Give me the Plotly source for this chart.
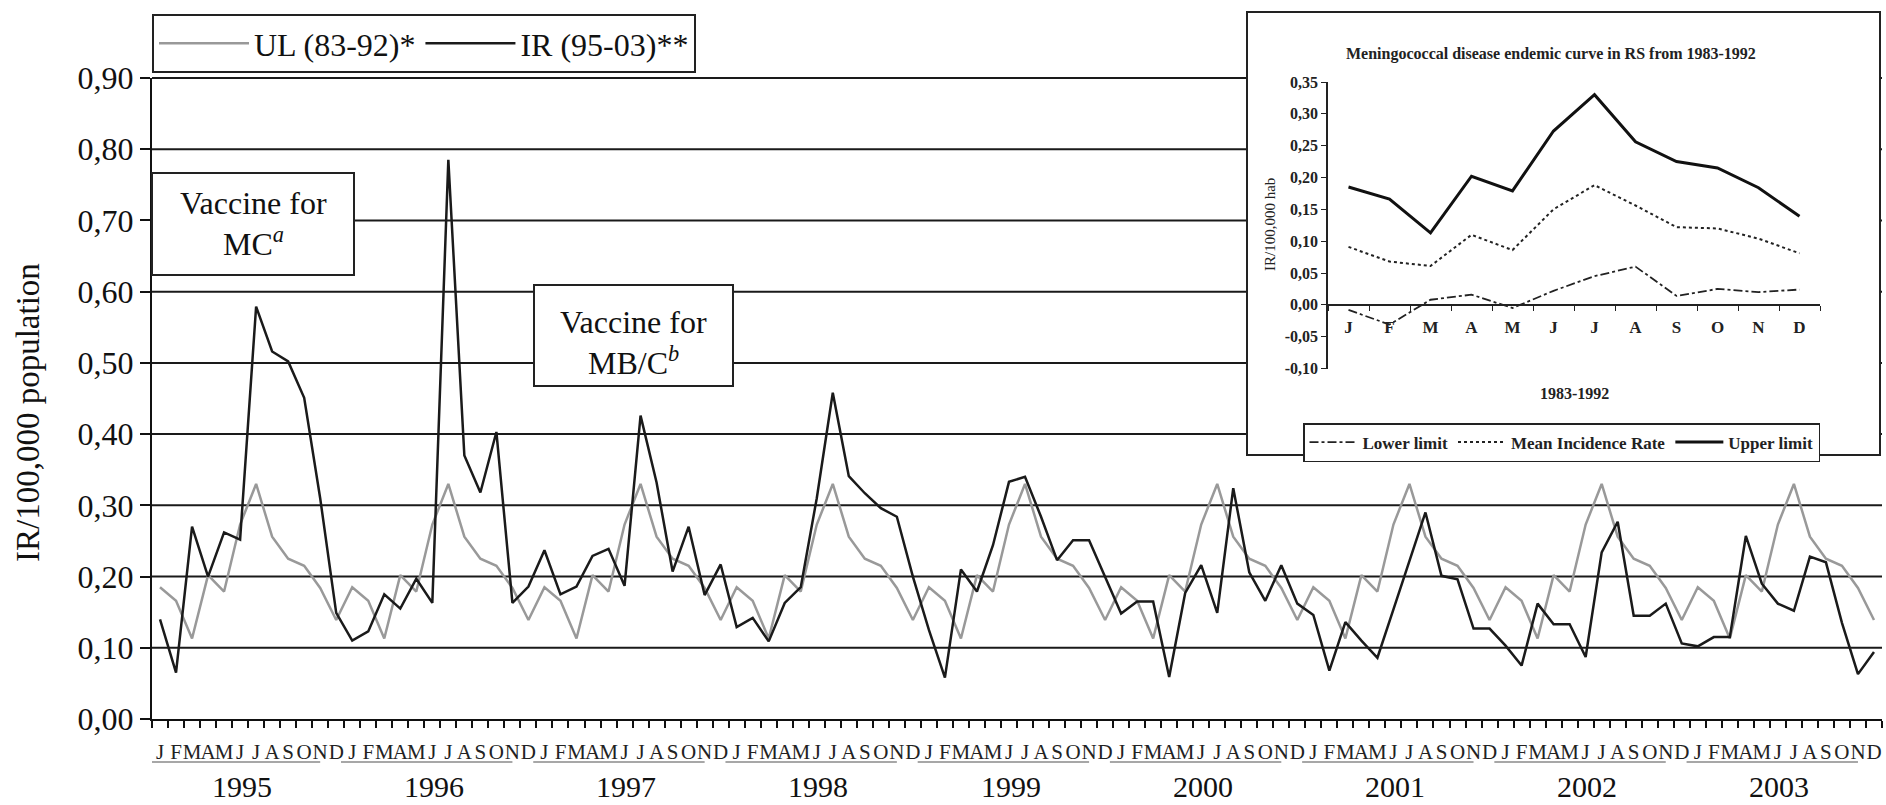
import plotly.graph_objects as go

# ---------------- data ----------------
months = ["J", "F", "M", "A", "M", "J", "J", "A", "S", "O", "N", "D"]
years = ["1995", "1996", "1997", "1998", "1999", "2000", "2001", "2002", "2003"]

# Upper limit of the 1983-1992 endemic curve (monthly)
ul_83_92 = [0.185, 0.166, 0.113, 0.202, 0.179, 0.273, 0.330, 0.256, 0.225, 0.215, 0.184, 0.139]
mean_83_92 = [0.091, 0.068, 0.061, 0.110, 0.086, 0.150, 0.188, 0.156, 0.122, 0.120, 0.104, 0.081]
lower_83_92 = [-0.008, -0.031, 0.008, 0.016, -0.005, 0.022, 0.045, 0.060, 0.014, 0.025, 0.020, 0.024]

ir_1995 = [0.140, 0.065, 0.270, 0.200, 0.262, 0.252, 0.579, 0.516, 0.502, 0.451, 0.310, 0.149]
ir_1996 = [0.110, 0.123, 0.175, 0.155, 0.197, 0.163, 0.785, 0.370, 0.318, 0.403, 0.163, 0.186]
ir_1997 = [0.237, 0.175, 0.186, 0.229, 0.239, 0.187, 0.426, 0.332, 0.207, 0.270, 0.174, 0.217]
ir_1998 = [0.129, 0.142, 0.109, 0.163, 0.185, 0.310, 0.458, 0.341, 0.317, 0.296, 0.284, 0.200]
ir_1999 = [0.125, 0.058, 0.210, 0.179, 0.244, 0.333, 0.340, 0.284, 0.223, 0.251, 0.251, 0.200]
ir_2000 = [0.148, 0.165, 0.165, 0.059, 0.177, 0.216, 0.149, 0.324, 0.206, 0.166, 0.216, 0.162]
ir_2001 = [0.146, 0.068, 0.136, 0.110, 0.086, 0.154, 0.222, 0.290, 0.201, 0.196, 0.127, 0.127]
ir_2002 = [0.103, 0.075, 0.162, 0.133, 0.133, 0.087, 0.234, 0.277, 0.145, 0.145, 0.162, 0.106]
ir_2003 = [0.102, 0.115, 0.115, 0.257, 0.190, 0.162, 0.152, 0.228, 0.220, 0.135, 0.063, 0.094]

y_ticks = [0.0, 0.1, 0.2, 0.3, 0.4, 0.5, 0.6, 0.7, 0.8, 0.9]
y_ticktext = ["0,00", "0,10", "0,20", "0,30", "0,40", "0,50", "0,60", "0,70", "0,80", "0,90"]
inset_ticks = [-0.10, -0.05, 0.0, 0.05, 0.10, 0.15, 0.20, 0.25, 0.30, 0.35]
inset_ticktext = ["-0,10", "-0,05", "0,00", "0,05", "0,10", "0,15", "0,20", "0,25", "0,30", "0,35"]

# ---------------- derived ----------------
ir_95_03 = ir_1995 + ir_1996 + ir_1997 + ir_1998 + ir_1999 + ir_2000 + ir_2001 + ir_2002 + ir_2003
ul_series = ul_83_92 * len(years)
n = len(ir_95_03)
x_idx = list(range(n))
month_labels = months * len(years)
m_idx = list(range(len(months)))
Y_MAX = y_ticks[-1]

SERIF = "Liberation Serif"

fig = go.Figure()

fig.add_trace(go.Scatter(
    x=x_idx, y=ul_series, mode="lines", name="UL (83-92)*",
    line=dict(color="#999999", width=2.5), legend="legend"))
fig.add_trace(go.Scatter(
    x=x_idx, y=ir_95_03, mode="lines", name="IR (95-03)**",
    line=dict(color="#1a1a1a", width=2.5), legend="legend"))

# inset traces
fig.add_trace(go.Scatter(
    x=m_idx, y=lower_83_92, mode="lines", name="Lower limit",
    line=dict(color="#222", width=1.8, dash="dashdot"),
    xaxis="x2", yaxis="y2", legend="legend2"))
fig.add_trace(go.Scatter(
    x=m_idx, y=mean_83_92, mode="lines", name="Mean Incidence Rate",
    line=dict(color="#222", width=2, dash="dot"),
    xaxis="x2", yaxis="y2", legend="legend2"))
fig.add_trace(go.Scatter(
    x=m_idx, y=ul_83_92, mode="lines", name="Upper limit",
    line=dict(color="#111", width=3),
    xaxis="x2", yaxis="y2", legend="legend2"))

W, H = 1886, 805
ML, MR, MT, MB = 152, 4, 78, 86
PW = W - ML - MR
PH = H - MT - MB


def px(fx):
    return (fx - ML) / PW


def py(fy):
    return (H - MB - fy) / PH


# inset plot area (full-image px)
IX0, IX1, IY0, IY1 = 1328, 1820, 82, 368.5

shapes = []
annotations = []

# main horizontal grid lines (drawn under everything)
for v in y_ticks[1:]:
    shapes.append(dict(type="line", xref="paper", yref="paper", x0=0, x1=1,
                       y0=v / Y_MAX, y1=v / Y_MAX,
                       line=dict(color="#1a1a1a", width=2), layer="below"))

# inset white panel (covers the main grid, under the inset's own content)
shapes.append(dict(type="rect", xref="paper", yref="paper",
                   x0=px(1247), x1=px(1880), y0=py(455), y1=py(12),
                   fillcolor="white", line=dict(color="#222", width=2), layer="below"))

# vaccine boxes
shapes.append(dict(type="rect", xref="paper", yref="paper",
                   x0=px(152), x1=px(354), y0=py(275), y1=py(173),
                   fillcolor="white", line=dict(color="#222", width=2), layer="above"))
shapes.append(dict(type="rect", xref="paper", yref="paper",
                   x0=px(534), x1=px(733), y0=py(386), y1=py(285),
                   fillcolor="white", line=dict(color="#222", width=2), layer="above"))

box_font = dict(family=SERIF, size=32, color="#111")
annotations += [
    dict(text="Vaccine for", x=px(253), y=py(203), xref="paper", yref="paper",
         xanchor="center", yanchor="middle", showarrow=False, font=box_font),
    dict(text="MC<sup><i>a</i></sup>", x=px(253), y=py(242), xref="paper", yref="paper",
         xanchor="center", yanchor="middle", showarrow=False, font=box_font),
    dict(text="Vaccine for", x=px(633), y=py(322), xref="paper", yref="paper",
         xanchor="center", yanchor="middle", showarrow=False, font=box_font),
    dict(text="MB/C<sup><i>b</i></sup>", x=px(633), y=py(361), xref="paper", yref="paper",
         xanchor="center", yanchor="middle", showarrow=False, font=box_font),
]

# year labels and underlines
for k, yr in enumerate(years):
    annotations.append(dict(text=yr, x=12 * k + 5.1, xref="x", y=py(805), yref="paper",
                            xanchor="center", yanchor="bottom", showarrow=False,
                            font=dict(family=SERIF, size=30, color="#111")))
    shapes.append(dict(type="line", xref="x", yref="paper",
                       x0=12 * k - 0.7, x1=12 * k + 10.0, y0=py(762), y1=py(762),
                       line=dict(color="#8a8a8a", width=1.5)))

# main y title
annotations.append(dict(text="IR/100,000 population", x=px(28), y=py(412),
                        xref="paper", yref="paper", textangle=-90, showarrow=False,
                        xanchor="center", yanchor="middle",
                        font=dict(family=SERIF, size=33, color="#111")))

# inset texts
annotations += [
    dict(text="<b>Meningococcal disease endemic curve in RS from 1983-1992</b>",
         x=px(1551), y=py(54), xref="paper", yref="paper", showarrow=False,
         xanchor="center", yanchor="middle",
         font=dict(family=SERIF, size=16, color="#222")),
    dict(text="<b>1983-1992</b>", x=px(1574), y=py(393), xref="paper", yref="paper",
         xanchor="center", yanchor="middle", showarrow=False,
         font=dict(family=SERIF, size=16, color="#222")),
    dict(text="IR/100,000 hab", x=px(1270), y=py(225), xref="paper", yref="paper",
         xanchor="center", yanchor="middle", textangle=-90, showarrow=False,
         font=dict(family=SERIF, size=15, color="#222")),
]

fig.update_layout(
    width=W, height=H,
    margin=dict(l=ML, r=MR, t=MT, b=MB, pad=0, autoexpand=False),
    paper_bgcolor="white", plot_bgcolor="white",
    font=dict(family=SERIF, color="#111"),
    shapes=shapes, annotations=annotations,
    legend=dict(orientation="h", x=0, xanchor="left", y=py(14), yanchor="top",
                bordercolor="#222", borderwidth=2, bgcolor="white",
                font=dict(family=SERIF, size=32, color="#111"), itemwidth=90),
    legend2=dict(orientation="h", x=px(1303), xanchor="left", y=py(423), yanchor="top",
                 bordercolor="#222", borderwidth=1.5, bgcolor="white",
                 font=dict(family=SERIF, size=17, color="#222", weight="bold"), itemwidth=48),
    xaxis=dict(domain=[0, 1], range=[-0.5, n - 0.5], showgrid=False, zeroline=False,
               showline=True, linecolor="#111", linewidth=2,
               tickmode="array", tickvals=x_idx, ticktext=month_labels, ticks="",
               tickangle=0, ticklabelstandoff=13,
               tickfont=dict(family=SERIF, size=21, color="#222"),
               minor=dict(tickmode="array", tickvals=[i - 0.5 for i in range(n + 1)],
                          ticks="outside", ticklen=7, tickwidth=1.5, tickcolor="#111",
                          showgrid=False)),
    yaxis=dict(domain=[0, 1], range=[0, Y_MAX], showgrid=False,
               zeroline=False, showline=True, linecolor="#111", linewidth=2,
               tickmode="array", tickvals=y_ticks, ticktext=y_ticktext,
               ticks="outside", ticklen=10, tickwidth=2, tickcolor="#111",
               tickfont=dict(family=SERIF, size=32, color="#111")),
    xaxis2=dict(domain=[px(IX0), px(IX1)], range=[-0.5, 11.5], anchor="free",
                position=py(304.8), showgrid=False, zeroline=False,
                showline=True, linecolor="#222", linewidth=1.5,
                tickmode="array", tickvals=m_idx, ticktext=months, ticks="",
                tickangle=0, ticklabelstandoff=7,
                tickfont=dict(family=SERIF, size=17, color="#222", weight="bold"),
                minor=dict(tickmode="array", tickvals=[i - 0.5 for i in range(13)],
                           ticks="outside", ticklen=5, tickwidth=1.2, tickcolor="#222",
                           showgrid=False)),
    yaxis2=dict(domain=[py(IY1), py(IY0)], range=[-0.10, 0.35], anchor="x2",
                showgrid=False, zeroline=False, showline=True, linecolor="#222", linewidth=1.5,
                tickmode="array", tickvals=inset_ticks, ticktext=inset_ticktext,
                ticks="outside", ticklen=5, tickwidth=1.2, tickcolor="#222",
                tickfont=dict(family=SERIF, size=16, color="#222", weight="bold")),
)

fig.write_html("out.html", config={"displayModeBar": False},
               post_script="document.body.style.margin='0px';")
